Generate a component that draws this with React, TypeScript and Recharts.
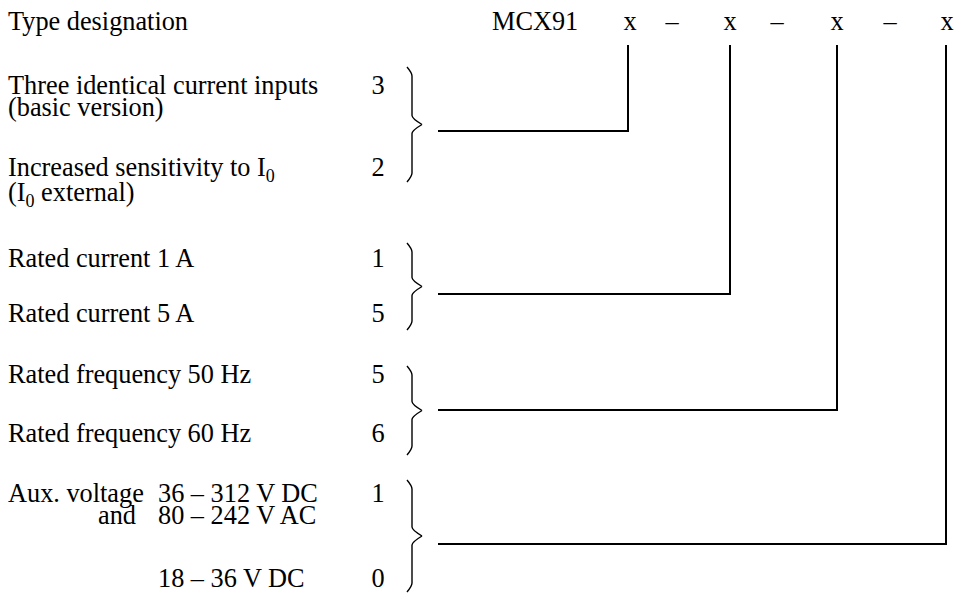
import React from "react";
import { ComposedChart, XAxis, YAxis, Line, Scatter } from "recharts";

const W = 955;
const H = 593;
const FONT = '"Liberation Serif", "Times New Roman", serif';
const FONT_SIZE = 26.3;

// ---- data ----
const TITLE = "Type designation";
const MODEL = "MCX91";
const SLOTS = ["x", "x", "x", "x"];
const SEPARATOR = "–";

// each option: lines of label text; "_0" marks a subscript
const inputLabels = [
  ["Three identical current inputs", "(basic version)"],
  ["Increased sensitivity to I_0", "(I_0 external)"],
];
const inputCodes = ["3", "2"];

const currentLabels = [["Rated current 1 A"], ["Rated current 5 A"]];
const currentCodes = ["1", "5"];

const frequencyLabels = [["Rated frequency 50 Hz"], ["Rated frequency 60 Hz"]];
const frequencyCodes = ["5", "6"];

const auxPrefixes = [["Aux. voltage", "and"], [""]];
const auxLabels = [["36 – 312 V DC", "80 – 242 V AC"], ["18 – 36 V DC"]];
const auxCodes = ["1", "0"];

// ---- layout (chart units = px, axes are hidden) ----
const LABEL_X = 8;
const PREFIX_X = [8, 98];
const AUX_X = 158;
const CODE_X = 378;
const TITLE_Y = 30;
const MODEL_X = 492;
const SLOT_X = [630, 730, 837, 947];
const SEP_X = [672, 777, 890];
const WIRE_X = [628, 730, 837, 946];
const WIRE_TOP = 45;
const WIRE_START = 438;
const WIRE_Y = [131, 294, 410, 544];
const ROW_Y = [[94, 176], [267, 322], [383, 442], [502, 587]];
const LINE_GAP = [[22, 25], [22, 22], [22, 22], [22, 22]];
const BRACE_SPAN = [[67, 182], [243, 330], [366, 455], [480, 592]];
const BRACE_LEFT = 407;
const BRACE_STEM = 412;
const BRACE_TIP = 422;

type TextPoint = { x: number; y: number; text: string; anchor: "start" | "middle" };

const textPoints: TextPoint[] = [];
textPoints.push({ x: LABEL_X, y: TITLE_Y, text: TITLE, anchor: "start" });
textPoints.push({ x: MODEL_X, y: TITLE_Y, text: MODEL, anchor: "start" });
SLOTS.forEach((s, i) => textPoints.push({ x: SLOT_X[i], y: TITLE_Y, text: s, anchor: "middle" }));
SEP_X.forEach((x) => textPoints.push({ x, y: TITLE_Y, text: SEPARATOR, anchor: "middle" }));

const simpleGroups = [
  { labels: inputLabels, codes: inputCodes },
  { labels: currentLabels, codes: currentCodes },
  { labels: frequencyLabels, codes: frequencyCodes },
];
simpleGroups.forEach((g, gi) => {
  g.labels.forEach((lines, i) => {
    lines.forEach((t, j) =>
      textPoints.push({
        x: LABEL_X,
        y: ROW_Y[gi][i] + j * LINE_GAP[gi][i],
        text: t,
        anchor: "start",
      })
    );
    textPoints.push({ x: CODE_X, y: ROW_Y[gi][i], text: g.codes[i], anchor: "middle" });
  });
});
auxLabels.forEach((lines, i) => {
  lines.forEach((t, j) => {
    const y = ROW_Y[3][i] + j * LINE_GAP[3][i];
    const pre = auxPrefixes[i][j];
    if (pre) textPoints.push({ x: PREFIX_X[j], y, text: pre, anchor: "start" });
    textPoints.push({ x: AUX_X, y, text: t, anchor: "start" });
  });
  textPoints.push({ x: CODE_X, y: ROW_Y[3][i], text: auxCodes[i], anchor: "middle" });
});

const wires = WIRE_Y.map((y, i) => [
  { x: WIRE_START, y },
  { x: WIRE_X[i], y },
  { x: WIRE_X[i], y: WIRE_TOP },
]);

const braces = BRACE_SPAN.flatMap(([top, bottom]) => {
  const mid = (top + bottom) / 2;
  return [
    [
      { x: BRACE_LEFT, y: top },
      { x: BRACE_STEM, y: top + 9 },
      { x: BRACE_STEM, y: mid - 9 },
      { x: BRACE_TIP, y: mid },
    ],
    [
      { x: BRACE_TIP, y: mid },
      { x: BRACE_STEM, y: mid + 9 },
      { x: BRACE_STEM, y: bottom - 9 },
      { x: BRACE_LEFT, y: bottom },
    ],
  ];
});

function rich(s: string) {
  const parts = s.split(/_(\d)/);
  return parts.map((p, i) =>
    i % 2 === 1 ? (
      <tspan key={i} fontSize={18} dy={6}>
        {p}
      </tspan>
    ) : (
      <tspan key={i} dy={i > 0 ? -6 : 0}>
        {p}
      </tspan>
    )
  );
}

const TextMark = (props: any) => {
  const { cx, cy, payload } = props;
  return (
    <text
      x={cx}
      y={cy}
      textAnchor={payload.anchor}
      fontFamily={FONT}
      fontSize={FONT_SIZE}
      fill="#000"
    >
      {rich(payload.text)}
    </text>
  );
};

export default function App() {
  return (
    <div style={{ width: W, height: H, background: "#fff" }}>
      <style>{"body{margin:0}"}</style>
      <ComposedChart width={W} height={H} margin={{ top: 0, right: 0, bottom: 0, left: 0 }}>
        <XAxis type="number" dataKey="x" domain={[0, W]} hide />
        <YAxis type="number" dataKey="y" domain={[0, H]} reversed hide />
        {wires.map((d, i) => (
          <Line
            key={`wire-${i}`}
            data={d}
            dataKey="y"
            type="linear"
            stroke="#000"
            strokeWidth={2}
            dot={false}
            activeDot={false}
            isAnimationActive={false}
          />
        ))}
        {braces.map((d, i) => (
          <Line
            key={`brace-${i}`}
            data={d}
            dataKey="y"
            type="monotoneY"
            stroke="#000"
            strokeWidth={1.4}
            dot={false}
            activeDot={false}
            isAnimationActive={false}
          />
        ))}
        <Scatter data={textPoints} shape={(p: any) => <TextMark {...p} />} isAnimationActive={false} />
      </ComposedChart>
    </div>
  );
}
